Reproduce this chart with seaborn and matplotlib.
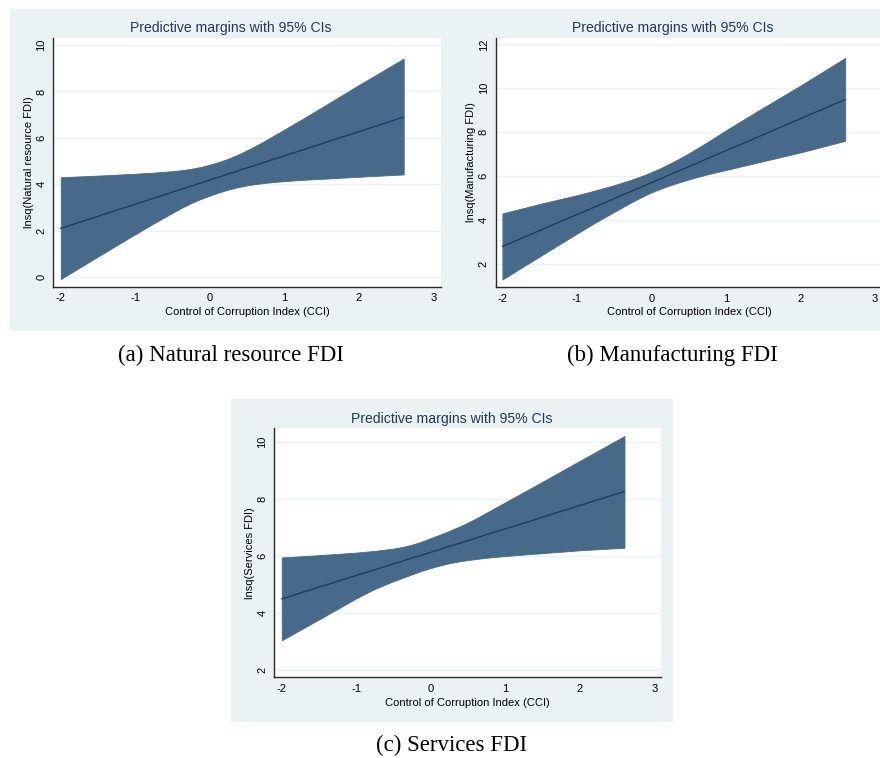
import matplotlib
matplotlib.use("Agg")
import matplotlib.pyplot as plt
from matplotlib.patches import Rectangle
import seaborn as sns

# Control of Corruption Index evaluation points
cci = [-2.0, -1.5, -1.0, -0.75, -0.5, -0.375, -0.25, -0.125, 0.0, 0.125, 0.25,
       0.375, 0.5, 0.625, 0.75, 0.875, 1.0, 1.25, 1.5, 2.0, 2.6]

# (a) Natural resource FDI
nat_mid = [2.11, 2.63, 3.15, 3.41, 3.67, 3.80, 3.93, 4.06, 4.19, 4.32, 4.45,
           4.58, 4.71, 4.84, 4.97, 5.10, 5.23, 5.49, 5.75, 6.27, 6.90]
nat_upper = [4.31, 4.38, 4.46, 4.51, 4.57, 4.615, 4.67, 4.75, 4.85, 4.97, 5.11,
             5.28, 5.47, 5.68, 5.90, 6.13, 6.36, 6.83, 7.31, 8.28, 9.41]
nat_lower = [-0.07, 0.90, 1.86, 2.33, 2.78, 3.00, 3.20, 3.37, 3.52, 3.66, 3.78,
             3.88, 3.96, 4.02, 4.07, 4.11, 4.14, 4.20, 4.24, 4.33, 4.43]

# (b) Manufacturing FDI
man_mid = [2.78, 3.51, 4.24, 4.60, 4.96, 5.15, 5.33, 5.51, 5.69, 5.87, 6.06,
           6.24, 6.42, 6.60, 6.79, 6.97, 7.15, 7.51, 7.88, 8.61, 9.48]
man_upper = [4.29, 4.72, 5.12, 5.34, 5.58, 5.71, 5.85, 6.00, 6.17, 6.36, 6.57,
             6.79, 7.03, 7.28, 7.54, 7.81, 8.08, 8.60, 9.11, 10.12, 11.38]
man_lower = [1.28, 2.33, 3.37, 3.88, 4.36, 4.60, 4.83, 5.05, 5.25, 5.42, 5.57,
             5.71, 5.84, 5.96, 6.07, 6.17, 6.27, 6.47, 6.67, 7.07, 7.60]

# (c) Services FDI
ser_mid = [4.50, 4.91, 5.32, 5.52, 5.73, 5.83, 5.93, 6.03, 6.13, 6.23, 6.34,
           6.44, 6.54, 6.64, 6.75, 6.85, 6.95, 7.15, 7.36, 7.77, 8.26]
ser_upper = [5.95, 6.03, 6.12, 6.18, 6.26, 6.32, 6.40, 6.50, 6.63, 6.75, 6.88,
             7.02, 7.17, 7.34, 7.52, 7.70, 7.88, 8.24, 8.60, 9.33, 10.20]
ser_lower = [3.05, 3.78, 4.52, 4.85, 5.12, 5.24, 5.36, 5.48, 5.58, 5.67, 5.75,
             5.81, 5.86, 5.90, 5.94, 5.97, 6.00, 6.05, 6.10, 6.20, 6.29]

x_ticks = [-2, -1, 0, 1, 2, 3]
nat_yticks = [0, 2, 4, 6, 8, 10]
man_yticks = [2, 4, 6, 8, 10, 12]
ser_yticks = [2, 4, 6, 8, 10]

title_text = "Predictive margins with 95% CIs"
x_title = "Control of Corruption Index (CCI)"
captions = ["(a) Natural resource FDI", "(b) Manufacturing FDI", "(c) Services FDI"]
y_titles = ["lnsq(Natural resource FDI)", "lnsq(Manufacturing FDI)", "lnsq(Services FDI)"]

sns.set_style("white")
plt.rcParams["font.family"] = ["Liberation Sans", "DejaVu Sans"]
plt.rcParams["axes.unicode_minus"] = False

W, H = 880, 758
fig = plt.figure(figsize=(W / 100, H / 100), dpi=100)
fig.patch.set_facecolor("white")

REGION = "#EAF2F3"
FILL = "#476A8A"
LINE = "#1C3E62"
TITLE_C = "#22375A"
AXIS_C = "#2A2A2A"


def px_rect(x0, y0, x1, y1):
    return [x0 / W, 1 - y1 / H, (x1 - x0) / W, (y1 - y0) / H]


panels = [
    dict(region=(10, 9, 450, 331), plot=(53.3, 37.7, 441, 286.5), title_x=231, title_y=28,
         xlim=(-2.1, 3.1), ylim=(-0.39, 10.31), yticks=nat_yticks,
         mid=nat_mid, upper=nat_upper, lower=nat_lower, cap=(231, 355)),
    dict(region=(450, 9, 895, 331), plot=(495.7, 37.7, 882.5, 286.7), title_x=672.7, title_y=28,
         xlim=(-2.09, 3.1), ylim=(0.95, 12.3), yticks=man_yticks,
         mid=man_mid, upper=man_upper, lower=man_lower, cap=(672, 355)),
    dict(region=(231, 399, 673, 722), plot=(274.3, 428.3, 661, 677.3), title_x=452, title_y=419.3,
         xlim=(-2.1, 3.09), ylim=(1.755, 10.47), yticks=ser_yticks,
         mid=ser_mid, upper=ser_upper, lower=ser_lower, cap=(452, 745)),
]

for i, p in enumerate(panels):
    x0, y0, x1, y1 = p["region"]
    fig.patches.append(Rectangle((x0 / W, 1 - y1 / H), (x1 - x0) / W, (y1 - y0) / H,
                                 transform=fig.transFigure, facecolor=REGION,
                                 edgecolor="none", zorder=0))

    ax = fig.add_axes(px_rect(*p["plot"]))
    ax.set_facecolor("white")
    ax.set_zorder(1)

    ax.fill_between(cci, p["lower"], p["upper"], color=FILL, linewidth=0.6,
                    edgecolor=FILL, zorder=2)
    sns.lineplot(x=cci, y=p["mid"], ax=ax, color=LINE, linewidth=1.0, zorder=3)

    ax.set_xlim(*p["xlim"])
    ax.set_ylim(*p["ylim"])
    ax.set_xticks(x_ticks)
    ax.set_yticks(p["yticks"])
    ax.grid(axis="y", color=REGION, linewidth=1.0, zorder=0)
    ax.grid(axis="x", visible=False)
    ax.set_axisbelow(True)

    for side in ("top", "right"):
        ax.spines[side].set_visible(False)
    for side in ("left", "bottom"):
        ax.spines[side].set_color(AXIS_C)
        ax.spines[side].set_linewidth(1.0)

    ax.tick_params(axis="both", direction="out", length=3.5, width=0.8,
                   color=AXIS_C, labelsize=8, labelcolor="black", pad=1.5)
    for lab in ax.get_yticklabels():
        lab.set_rotation(90)
        lab.set_va("center")

    ax.set_xlabel(x_title, fontsize=8, color="black")
    ax.set_ylabel(y_titles[i], fontsize=8, color="black")
    pw = p["plot"][2] - p["plot"][0]
    ph = p["plot"][3] - p["plot"][1]
    ax.xaxis.set_label_coords(0.5, -25.2 / ph)
    ax.xaxis.label.set_va("center")
    ax.yaxis.set_label_coords(-24.3 / pw, 0.5)
    ax.yaxis.label.set_va("center")

    fig.text(p["title_x"] / W, 1 - p["title_y"] / H, title_text, ha="center",
             va="center", fontsize=10.1, color=TITLE_C)

    cx, cy = p["cap"]
    fig.text(cx / W, 1 - cy / H, captions[i], ha="center", va="center",
             fontsize=16.5, family=["Liberation Serif", "DejaVu Serif"], color="black")

fig.savefig("out.png", dpi=100, facecolor="white")
